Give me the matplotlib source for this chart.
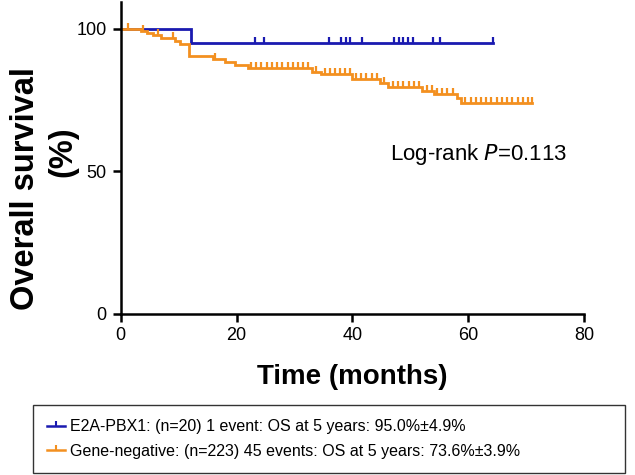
import numpy as np
import matplotlib
matplotlib.use("Agg")
import matplotlib.pyplot as plt
from matplotlib.path import Path

plt.rcParams['font.family'] = ['Liberation Sans', 'DejaVu Sans']

# E2A-PBX1 group: step times (months) and survival (%) after each step
e2a_times = [0, 12.2, 64.2]
e2a_surv = [100, 95.0, 95.0]
e2a_censor = [23.1, 24.8, 36.0, 38.1, 38.9, 39.6, 41.7, 47.2, 48.1, 48.8,
              49.6, 50.5, 53.9, 55.2, 64.2]

# Gene-negative group
neg_times = [0, 3.5, 4.5, 5.5, 7.0, 9.4, 10.3, 11.8, 16.0, 18.0, 19.8, 22.0,
             33.0, 34.5, 40.0, 44.8, 46.2, 52.0, 54.0, 58.0, 58.8, 71.0]
neg_surv = [100, 99.4, 98.6, 97.7, 96.8, 95.9, 94.6, 90.5, 89.4, 88.3, 87.4,
            86.4, 85.0, 84.0, 82.5, 81.0, 79.6, 78.3, 77.2, 75.6, 74.0, 74.0]
neg_censor = [1.3, 3.9, 6.5, 9.1, 16.3, 22.5, 23.4, 24.3, 25.2, 26.1, 27.0,
              27.9, 28.8, 29.7, 30.6, 31.5, 32.4, 33.7, 35.2, 36.1, 37.0,
              37.9, 38.8, 39.6, 40.6, 41.5, 42.4, 43.3, 44.2, 45.5, 47.0,
              47.9, 48.8, 49.7, 50.6, 51.5, 52.8, 53.7, 54.6, 55.5, 56.4,
              57.3, 59.5, 60.4, 61.3, 62.2, 63.1, 64.0, 64.9, 65.8, 66.7,
              67.6, 68.5, 69.4, 70.3, 71.0]

labels = ['E2A-PBX1: (n=20) 1 event: OS at 5 years: 95.0%\u00b14.9%',
          'Gene-negative: (n=223) 45 events: OS at 5 years: 73.6%\u00b13.9%']
colors = ['#1a1ab0', '#f39020']

tick_marker = Path([(0, 0), (0, 1)], [Path.MOVETO, Path.LINETO])

fig = plt.figure(figsize=(6.35, 4.75), dpi=100)
ax = fig.add_axes([0.19, 0.34, 0.73, 0.656])


def surv_at(times, surv, t):
    idx = np.searchsorted(times, t, side='right') - 1
    return np.array(surv)[idx]


handles = []
for times, surv, cens, col, lab in [(e2a_times, e2a_surv, e2a_censor, colors[0], labels[0]),
                                    (neg_times, neg_surv, neg_censor, colors[1], labels[1])]:
    ax.step(times, surv, where='post', color=col, lw=2.0, solid_joinstyle='miter')
    ax.plot(cens, surv_at(times, surv, cens), linestyle='none', marker=tick_marker,
            markersize=8, markeredgewidth=1.6, color=col, markerfacecolor='none')
    h, = ax.plot([], [], color=col, lw=1.8, marker=tick_marker, markersize=7,
                 markeredgewidth=1.5, markerfacecolor='none', label=lab)
    handles.append(h)

ax.set_xlim(0, 80)
ax.set_ylim(0, 109.5)
ax.set_xticks([0, 20, 40, 60, 80])
ax.set_yticks([0, 50, 100])
ax.spines['top'].set_visible(False)
ax.spines['right'].set_visible(False)
ax.spines['left'].set_linewidth(1.8)
ax.spines['bottom'].set_linewidth(1.8)
ax.tick_params(direction='out', length=6, width=1.8, labelsize=13, pad=4)

ax.set_xlabel('Time (months)', fontsize=20, fontweight='bold', labelpad=14)

# y label drawn as two lines, as in the original
fig.text(0.040, 0.603, 'Overall survival', rotation=90, fontsize=23.5,
         fontweight='bold', ha='center', va='center')
fig.text(0.099, 0.680, '(%)', rotation=90, fontsize=23.5,
         fontweight='bold', ha='center', va='center')

ax.text(46.5, 55.7, 'Log-rank $\\it{P}$=0.113', fontsize=16, va='center')

leg = fig.legend(handles=handles, loc='lower left',
                 bbox_to_anchor=(0.052, 0.004, 0.932, 0.15), mode='expand',
                 borderaxespad=0, fontsize=11.5, frameon=True, fancybox=False,
                 edgecolor='black', handlelength=1.1, handletextpad=0.3,
                 borderpad=0.9, labelspacing=0.6)
leg.get_frame().set_linewidth(1.0)

fig.savefig('out.png', dpi=100)
